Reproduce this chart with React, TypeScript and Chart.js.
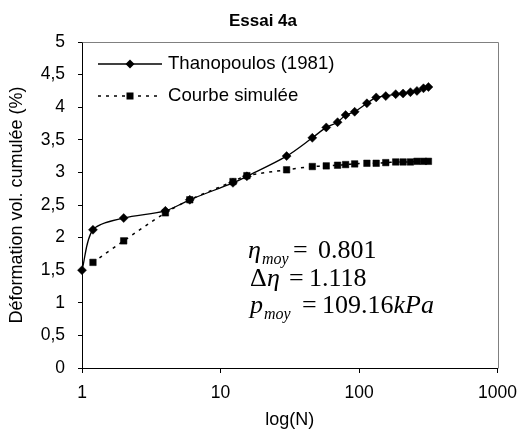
import React, { useEffect, useRef } from 'react';
import { Chart, registerables } from 'chart.js';

Chart.register(...registerables);

// ---- data ----
const chartTitle = 'Essai 4a';
const xTitle = 'log(N)';
const yTitle = 'Déformation vol. cumulée (%)';
const labelThanopoulos = 'Thanopoulos (1981)';
const labelSimulee = 'Courbe simulée';

const cyclesThanopoulos = [1, 1.2, 2, 4, 6, 12.3, 15.5, 30, 46, 58, 70, 80, 93, 114, 133, 156, 184, 208, 235, 262, 292, 317];
const defThanopoulos = [1.5, 2.12, 2.3, 2.41, 2.58, 2.84, 2.94, 3.25, 3.53, 3.69, 3.77, 3.88, 3.93, 4.06, 4.15, 4.17, 4.2, 4.21, 4.23, 4.25, 4.29, 4.31];

const cyclesSimulee = [1.2, 2, 4, 6, 12.3, 15.5, 30, 46, 58, 70, 80, 93, 114, 133, 156, 184, 208, 235, 262, 292, 317];
const defSimulee = [1.62, 1.95, 2.38, 2.58, 2.86, 2.95, 3.04, 3.09, 3.1, 3.11, 3.12, 3.13, 3.14, 3.14, 3.15, 3.16, 3.16, 3.16, 3.17, 3.17, 3.17];

const xTickValues = [1, 10, 100, 1000];
const yMin = 0;
const yMax = 5;
const yStep = 0.5;

const etaMoy = '0.801';
const deltaEta = '1.118';
const pMoy = '109.16';

const SANS = '"Liberation Sans", Arial, sans-serif';
const SERIF = '"Liberation Serif", "Times New Roman", serif';

function drawDiamond(ctx: CanvasRenderingContext2D, x: number, y: number, r: number) {
  ctx.beginPath();
  ctx.moveTo(x, y - r);
  ctx.lineTo(x + r, y);
  ctx.lineTo(x, y + r);
  ctx.lineTo(x - r, y);
  ctx.closePath();
  ctx.fill();
}

const decorPlugin = {
  id: 'decor',
  beforeDatasetsDraw(chart: any) {
    const { ctx, chartArea } = chart;
    ctx.save();
    ctx.strokeStyle = '#808080';
    ctx.lineWidth = 1;
    ctx.beginPath();
    ctx.moveTo(Math.round(chartArea.left) + 0.5, Math.round(chartArea.top) + 0.5);
    ctx.lineTo(Math.round(chartArea.right) + 0.5, Math.round(chartArea.top) + 0.5);
    ctx.lineTo(Math.round(chartArea.right) + 0.5, Math.round(chartArea.bottom) + 0.5);
    ctx.stroke();
    ctx.restore();
  },
  afterDraw(chart: any) {
    const { ctx, chartArea } = chart;
    ctx.save();
    ctx.fillStyle = '#000';
    ctx.strokeStyle = '#000';

    // title
    ctx.font = `bold 17px ${SANS}`;
    ctx.textAlign = 'center';
    ctx.textBaseline = 'middle';
    ctx.fillText(chartTitle, 263, 21);

    // axis titles
    ctx.font = `18px ${SANS}`;
    ctx.fillText(xTitle, (chartArea.left + chartArea.right) / 2, 420);
    ctx.save();
    ctx.translate(17, (chartArea.top + chartArea.bottom) / 2);
    ctx.rotate(-Math.PI / 2);
    ctx.fillText(yTitle, 0, 0);
    ctx.restore();

    // legend
    ctx.textAlign = 'left';
    ctx.font = `18.6px ${SANS}`;
    const lx0 = 98, lx1 = 162, lmid = 130, ltx = 168;
    const ly1 = 64, ly2 = 96;
    ctx.lineWidth = 1.3;
    ctx.beginPath();
    ctx.moveTo(lx0, ly1);
    ctx.lineTo(lx1, ly1);
    ctx.stroke();
    drawDiamond(ctx, lmid, ly1, 4.5);
    ctx.fillText(labelThanopoulos, ltx, ly1);

    ctx.lineWidth = 1.5;
    ctx.setLineDash([3, 5]);
    ctx.beginPath();
    ctx.moveTo(lx0, ly2);
    ctx.lineTo(lx1, ly2);
    ctx.stroke();
    ctx.setLineDash([]);
    ctx.fillRect(lmid - 3.5, ly2 - 3.5, 7, 7);
    ctx.fillText(labelSimulee, ltx, ly2);

    // math annotation
    ctx.textBaseline = 'alphabetic';
    const big = 26;
    const small = 16;
    const sub = 6;
    // row 1
    let y = 258;
    ctx.font = `italic ${big}px ${SERIF}`;
    ctx.fillText('η', 248, y);
    ctx.font = `italic ${small}px ${SERIF}`;
    ctx.fillText('moy', 262, y + sub);
    ctx.font = `${big}px ${SERIF}`;
    ctx.fillText('=', 293, y);
    ctx.fillText(etaMoy, 318, y);
    // row 2
    y = 286;
    ctx.font = `${big}px ${SERIF}`;
    ctx.fillText('Δ', 250, y);
    ctx.font = `italic ${big}px ${SERIF}`;
    ctx.fillText('η', 267, y);
    ctx.font = `${big}px ${SERIF}`;
    ctx.fillText('=', 289, y);
    ctx.fillText(deltaEta, 309, y);
    // row 3
    y = 313;
    ctx.font = `italic ${big}px ${SERIF}`;
    ctx.fillText('p', 250, y);
    ctx.font = `italic ${small}px ${SERIF}`;
    ctx.fillText('moy', 264, y + sub);
    ctx.font = `${big}px ${SERIF}`;
    ctx.fillText('=', 302, y);
    ctx.fillText(pMoy, 322, y);
    const w = ctx.measureText(pMoy).width;
    ctx.font = `italic ${big}px ${SERIF}`;
    ctx.fillText('kPa', 322 + w, y);

    ctx.restore();
  },
};

export default function App() {
  const canvasRef = useRef<HTMLCanvasElement | null>(null);

  useEffect(() => {
    const canvas = canvasRef.current;
    if (!canvas) return;
    const chart = new Chart(canvas, {
      type: 'line',
      data: {
        datasets: [
          {
            label: labelThanopoulos,
            data: cyclesThanopoulos.map((n, i) => ({ x: n, y: defThanopoulos[i] })),
            borderColor: '#000',
            backgroundColor: '#000',
            borderWidth: 1.3,
            pointStyle: 'rectRot',
            pointRadius: 4.5,
            pointBorderWidth: 0.5,
            pointBackgroundColor: '#000',
            pointBorderColor: '#000',
            tension: 0.3,
            clip: false,
          },
          {
            label: labelSimulee,
            data: cyclesSimulee.map((n, i) => ({ x: n, y: defSimulee[i] })),
            borderColor: '#000',
            backgroundColor: '#000',
            borderWidth: 1.5,
            borderDash: [3, 5],
            pointStyle: 'rect',
            pointRadius: 4.6,
            pointBorderWidth: 0.5,
            pointBackgroundColor: '#000',
            pointBorderColor: '#000',
            tension: 0.3,
            clip: false,
          },
        ],
      },
      options: {
        animation: false,
        responsive: false,
        devicePixelRatio: 1,
        layout: { padding: { top: 42, right: 22, left: 0, bottom: 0 } },
        plugins: {
          legend: { display: false },
          title: { display: false },
          tooltip: { enabled: false },
        },
        scales: {
          x: {
            type: 'logarithmic',
            position: 'bottom',
            min: 1,
            max: 1000,
            afterBuildTicks: (scale: any) => {
              scale.ticks = xTickValues.map((v) => ({ value: v }));
            },
            afterFit: (scale: any) => {
              scale.height = 64;
            },
            ticks: {
              autoSkip: false,
              maxRotation: 0,
              color: '#000',
              padding: 10,
              font: { family: SANS, size: 17.5 },
              callback: (v: any) => String(v),
            },
            grid: { drawOnChartArea: false, drawTicks: true, tickLength: 5, color: '#000' },
            border: { display: true, color: '#000', width: 1 },
          },
          y: {
            type: 'linear',
            min: yMin,
            max: yMax,
            afterFit: (scale: any) => {
              scale.width = 82;
            },
            ticks: {
              stepSize: yStep,
              color: '#000',
              padding: 13,
              font: { family: SANS, size: 17.5 },
              callback: (v: any) => String(v).replace('.', ','),
            },
            grid: { drawOnChartArea: false, drawTicks: true, tickLength: 4, color: '#000' },
            border: { display: true, color: '#000', width: 1 },
          },
        },
      },
      plugins: [decorPlugin],
    });
    return () => chart.destroy();
  }, []);

  return (
    <div style={{ position: 'fixed', left: 0, top: 0, width: 527, height: 432, background: '#fff' }}>
      <canvas ref={canvasRef} width={527} height={432} style={{ width: 527, height: 432, display: 'block' }} />
    </div>
  );
}
